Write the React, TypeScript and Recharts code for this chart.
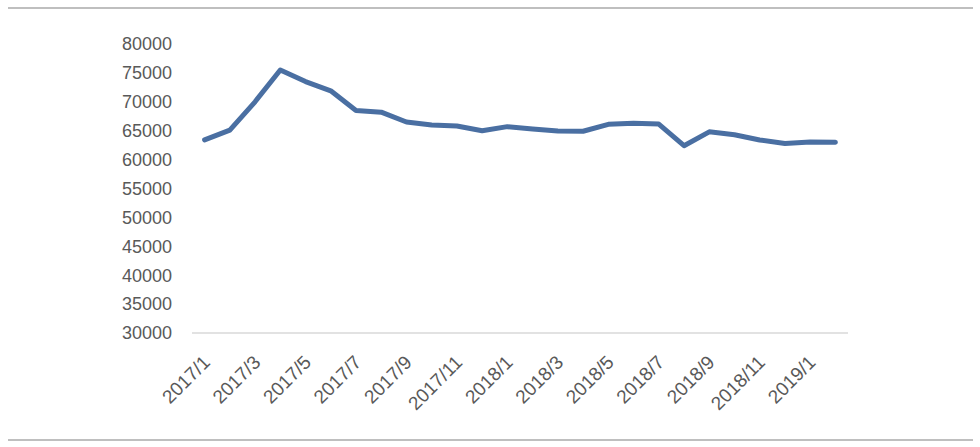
import React from "react";
import { LineChart, Line, XAxis, YAxis } from "recharts";

const months: string[] = [
  "2017/1", "2017/2", "2017/3", "2017/4", "2017/5", "2017/6", "2017/7", "2017/8", "2017/9", "2017/10", "2017/11", "2017/12",
  "2018/1", "2018/2", "2018/3", "2018/4", "2018/5", "2018/6", "2018/7", "2018/8", "2018/9", "2018/10", "2018/11", "2018/12",
  "2019/1", "2019/2",
];

const values: number[] = [
  63400, 65100, 70000, 75500, 73500, 71900, 68500, 68200, 66500, 66000, 65800, 65000,
  65700, 65300, 64950, 64900, 66100, 66300, 66150, 62400, 64800, 64300, 63400, 62800,
  63050, 63000,
];

const yTicks: number[] = [30000, 35000, 40000, 45000, 50000, 55000, 60000, 65000, 70000, 75000, 80000];

const data = months.map((m, i) => ({ month: m, value: values[i] }));

const FONT = "'Liberation Sans', Arial, sans-serif";
const TEXT = "#595959";

const XTick = (props: any) => {
  const { x, y, payload } = props;
  const ax = x - 3;
  const ay = y + 13;
  return (
    <text
      x={ax}
      y={ay}
      transform={`rotate(-45 ${ax} ${ay})`}
      textAnchor="end"
      dominantBaseline="hanging"
      fill={TEXT}
      fontSize={19}
      fontFamily={FONT}
    >
      {payload.value}
    </text>
  );
};

export default function App() {
  return (
    <div style={{ position: "absolute", left: 0, top: 0, width: 980, height: 447, background: "#fff" }}>
      <div style={{ position: "absolute", left: 8, top: 7, width: 965, height: 2, background: "#bfbfbf" }} />
      <div style={{ position: "absolute", left: 8, top: 439, width: 965, height: 2, background: "#bfbfbf" }} />
      <LineChart
        width={980}
        height={447}
        data={data}
        margin={{ top: 44, right: 132, bottom: 24, left: 112 }}
      >
        <XAxis
          dataKey="month"
          interval={1}
          tickLine={false}
          tickSize={0}
          tickMargin={8}
          padding={{ left: 12.6, right: 12.6 }}
          axisLine={{ stroke: "#d9d9d9", strokeWidth: 1.5 }}
          height={90}
          tick={<XTick />}
        />
        <YAxis
          domain={[30000, 80000]}
          ticks={yTicks}
          axisLine={false}
          tickLine={false}
          tickSize={0}
          tickMargin={20}
          width={80}
          interval={0}
          tick={{ fill: TEXT, fontSize: 18, fontFamily: FONT }}
        />
        <Line
          type="linear"
          dataKey="value"
          stroke="#4a6fa2"
          strokeWidth={5}
          dot={false}
          activeDot={false}
          isAnimationActive={false}
          strokeLinejoin="round"
          strokeLinecap="round"
        />
      </LineChart>
    </div>
  );
}
